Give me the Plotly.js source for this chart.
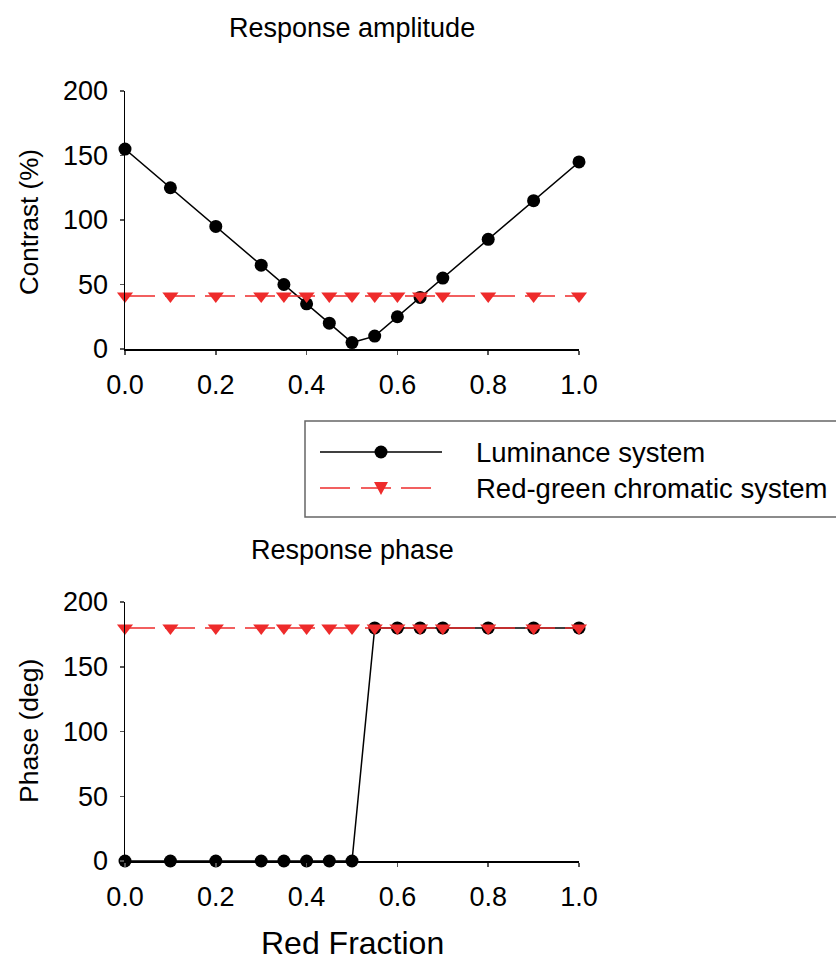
<!DOCTYPE html>
<html>
<head>
<meta charset="utf-8">
<script src="https://cdn.plot.ly/plotly-3.0.1.min.js"></script>
<style>html,body{margin:0;padding:0;background:#fff}#plot{width:836px;height:960px}</style>
</head>
<body>
<div id="plot"></div>
<script>
// ---- data ----
var redFraction = [0, 0.1, 0.2, 0.3, 0.35, 0.4, 0.45, 0.5, 0.55, 0.6, 0.65, 0.7, 0.8, 0.9, 1.0];
var lumAmplitude = [155, 125, 95, 65, 50, 35, 20, 5, 10, 25, 40, 55, 85, 115, 145];
var rgAmplitude = [41, 41, 41, 41, 41, 41, 41, 41, 41, 41, 41, 41, 41, 41, 41];
var lumPhase = [0, 0, 0, 0, 0, 0, 0, 0, 180, 180, 180, 180, 180, 180, 180];
var rgPhase = [180, 180, 180, 180, 180, 180, 180, 180, 180, 180, 180, 180, 180, 180, 180];
var seriesNames = ["Luminance system", "Red-green chromatic system"];
var xTicks = [0, 0.2, 0.4, 0.6, 0.8, 1.0];
var xTickText = ["0.0", "0.2", "0.4", "0.6", "0.8", "1.0"];
var yTicks = [0, 50, 100, 150, 200];

var W = 836, H = 960;
function px(x) { return x / W; }
function py(y) { return 1 - y / H; }

var BLACK = "#000000", RED = "#ee2b2b";
var FONT = "Liberation Sans, Arial, sans-serif";

function lumTrace(y, xa, ya) {
  return {x: redFraction, y: y, xaxis: xa, yaxis: ya, type: "scatter", mode: "lines+markers",
    name: seriesNames[0], cliponaxis: false,
    line: {color: BLACK, width: 1.5},
    marker: {symbol: "circle", size: 13, color: BLACK}};
}
function rgTrace(y, xa, ya) {
  return {x: redFraction, y: y, xaxis: xa, yaxis: ya, type: "scatter", mode: "lines+markers",
    name: seriesNames[1], cliponaxis: false,
    line: {color: RED, width: 1.5, dash: "30px,10px"},
    marker: {symbol: "triangle-down", size: 14, color: RED}};
}

var data = [
  lumTrace(lumAmplitude, "x", "y"),
  rgTrace(rgAmplitude, "x", "y"),
  lumTrace(lumPhase, "x2", "y2"),
  rgTrace(rgPhase, "x2", "y2")
];

function xaxisDef(anchor) {
  return {domain: [px(125), px(579)], range: [0, 1], anchor: anchor,
    showgrid: false, zeroline: false, showline: true, linecolor: BLACK, linewidth: 1.5,
    ticks: "outside", ticklen: 4, tickwidth: 1.5, tickcolor: "#555",
    tickvals: xTicks, ticktext: xTickText, ticklabelstandoff: 7,
    tickfont: {family: FONT, size: 27, color: "#000"}, fixedrange: true};
}
function yaxisDef(anchor, d0, d1) {
  return {domain: [d0, d1], range: [0, 200], anchor: anchor,
    showgrid: false, zeroline: false, showline: true, linecolor: BLACK, linewidth: 1.5,
    ticks: "outside", ticklen: 4, tickwidth: 1.5, tickcolor: "#555",
    tickvals: yTicks, ticklabelstandoff: 6,
    tickfont: {family: FONT, size: 27, color: "#000"}, fixedrange: true};
}

var legLeft = 305, legTop = 421, legBottom = 517;
var row1 = 452, row2 = 488;
var shapes = [
  {type: "rect", xref: "paper", yref: "paper", x0: px(legLeft), x1: px(W + 10), y0: py(legBottom), y1: py(legTop),
    line: {color: "#666", width: 1.5}, fillcolor: "rgba(0,0,0,0)"},
  {type: "line", xref: "paper", yref: "paper", x0: px(320), x1: px(442), y0: py(row1), y1: py(row1),
    line: {color: BLACK, width: 1.5}},
  {type: "circle", xref: "paper", yref: "paper", x0: px(381 - 6.5), x1: px(381 + 6.5), y0: py(row1 + 6.5), y1: py(row1 - 6.5),
    fillcolor: BLACK, line: {color: BLACK, width: 0}},
  {type: "line", xref: "paper", yref: "paper", x0: px(320), x1: px(350), y0: py(row2), y1: py(row2), line: {color: RED, width: 1.5}},
  {type: "line", xref: "paper", yref: "paper", x0: px(361), x1: px(391), y0: py(row2), y1: py(row2), line: {color: RED, width: 1.5}},
  {type: "line", xref: "paper", yref: "paper", x0: px(401), x1: px(431), y0: py(row2), y1: py(row2), line: {color: RED, width: 1.5}},
  {type: "path", xref: "paper", yref: "paper",
    path: "M " + px(374) + "," + py(row2 - 6) + " L " + px(388) + "," + py(row2 - 6) + " L " + px(381) + "," + py(row2 + 7) + " Z",
    fillcolor: RED, line: {color: RED, width: 0}}
];

function ann(text, x, y, size, opts) {
  var a = {text: text, xref: "paper", yref: "paper", x: px(x), y: py(y), showarrow: false,
    xanchor: "center", yanchor: "middle", font: {family: FONT, size: size, color: "#000"}};
  for (var k in opts) a[k] = opts[k];
  return a;
}

var annotations = [
  ann("Response amplitude", 352, 28, 27, {}),
  ann("Response phase", 352, 550, 27, {}),
  ann("Contrast (%)", 29, 222, 26, {textangle: -90}),
  ann("Phase (deg)", 29, 731, 26.5, {textangle: -90}),
  ann("Red Fraction", 352, 943, 32, {}),
  ann(seriesNames[0], 474, row1, 27.5, {xanchor: "left"}),
  ann(seriesNames[1], 474, row2, 27.5, {xanchor: "left"})
];

var layout = {
  width: W, height: H,
  margin: {l: 0, r: 0, t: 0, b: 0},
  paper_bgcolor: "#fff", plot_bgcolor: "#fff",
  showlegend: false,
  xaxis: xaxisDef("y"),
  yaxis: yaxisDef("x", py(349), py(91)),
  xaxis2: xaxisDef("y2"),
  yaxis2: yaxisDef("x2", py(861), py(602)),
  shapes: shapes,
  annotations: annotations,
  font: {family: FONT}
};

Plotly.newPlot("plot", data, layout, {staticPlot: true, displayModeBar: false});
</script>
</body>
</html>
